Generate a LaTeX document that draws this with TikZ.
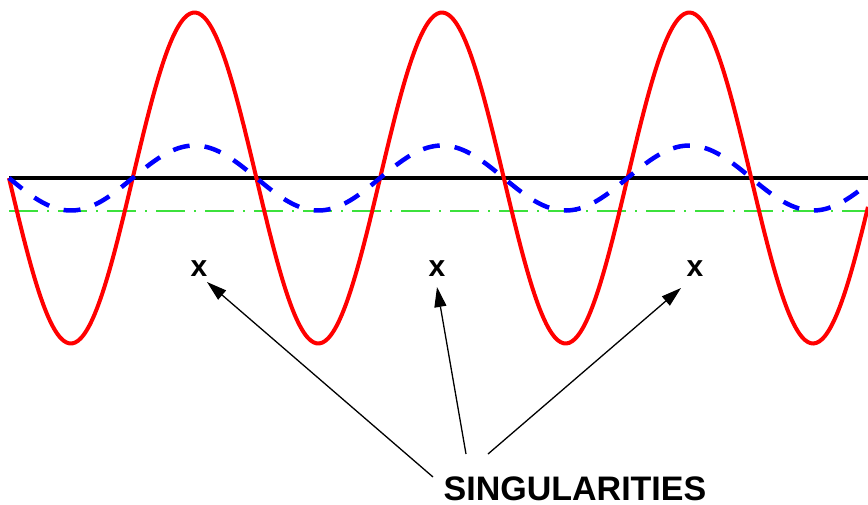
\documentclass[tikz,border=0pt]{standalone}
\usepackage{fontspec}
\setmainfont{Liberation Sans}
\usetikzlibrary{arrows.meta}
\definecolor{limegreen}{RGB}{60,225,60}
\tikzset{
  axisline/.style={black, line width=4pt},
  refline/.style={limegreen, line width=1.3pt, dash pattern=on 29pt off 9pt on 2pt off 9pt},
  bigwave/.style={red, line width=4pt},
  smallwave/.style={blue, line width=4.5pt, dash pattern=on 17pt off 15pt},
  pointer/.style={black, line width=1.3pt, -{Triangle[length=20pt,width=12pt]}},
  marklabel/.style={inner sep=0pt, font=\bfseries\fontsize{30}{30}\selectfont},
  biglabel/.style={inner sep=0pt, font=\bfseries\fontsize{34}{34}\selectfont}
}
\begin{document}
\begin{tikzpicture}[x=1pt,y=-1pt]
\useasboundingbox (0,0) rectangle (868,504);
\coordinate (left) at (9,178);
\coordinate (right) at (868,178);
\coordinate (gleft) at (9,211);
\coordinate (gright) at (868,211);
\draw[axisline] (left) -- (right);
\draw[refline] (gleft) -- (gright);
\draw[bigwave] plot[domain=9:868, samples=300, smooth] (\x, {178+165.5*sin((\x-9)*1.45513)});
\draw[smallwave] plot[domain=9:868, samples=300, smooth] (\x, {178+32.5*sin((\x-9)*1.45513)});
\node[marklabel] (x1) at (199,269) {x};
\node[marklabel] (x2) at (437,269) {x};
\node[marklabel] (x3) at (695,269) {x};
\node[biglabel, anchor=base] (sing) at (575,500.5) {SINGULARITIES};
\coordinate (s1) at (433,477);
\coordinate (s2) at (466,454);
\coordinate (s3) at (488,454);
\coordinate (t1) at (207,282);
\coordinate (t2) at (437,287);
\coordinate (t3) at (681,288);
\draw[pointer] (s1) -- (t1);
\draw[pointer] (s2) -- (t2);
\draw[pointer] (s3) -- (t3);
\end{tikzpicture}
\end{document}
